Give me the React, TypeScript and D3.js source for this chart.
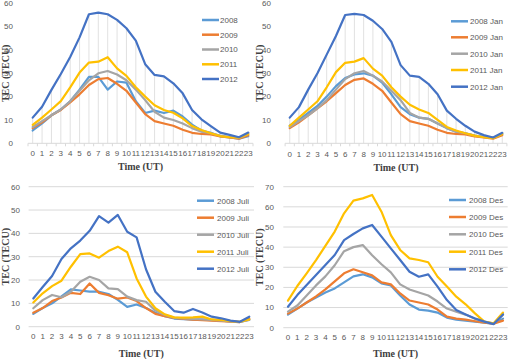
import React from "react";
import * as d3 from "d3";

const HOURS = ["0","1","2","3","4","5","6","7","8","9","10","11","12","13","14","15","16","17","18","19","20","21","22","23"];
const COLORS = ["#5B9BD5", "#ED7D31", "#A5A5A5", "#FFC000", "#4472C4"];

// Panel 1 (all year)
const y2008 = [5.5, 8.5, 12, 14.5, 18, 23, 28.5, 28.5, 23, 26.5, 26, 18, 13, 14, 13, 14, 11.5, 8, 5.5, 4.5, 3, 2.5, 2, 3];
const y2009 = [6.5, 9, 12, 14.3, 17.5, 21, 25, 27.5, 28, 25.5, 22.5, 17.5, 12.5, 9.5, 8.5, 7.5, 5.8, 4.5, 4, 3.8, 3, 2.5, 2, 3.5];
const y2010 = [7, 9.5, 12, 14.5, 18, 22.5, 27, 30, 31, 29.5, 27, 23, 18.5, 13.5, 11, 10, 8.5, 6.5, 5, 4.3, 3.3, 2.7, 2.3, 4];
const y2011 = [7.9, 11, 14.5, 18.1, 24, 30.3, 34.6, 35, 36.9, 32.1, 28.9, 24, 20, 16.3, 14.3, 13.1, 10.7, 7.4, 5.7, 4.3, 3.1, 2.6, 2.4, 4];
const y2012 = [11, 15.7, 22.9, 29.7, 37, 45.4, 55.3, 56, 55.3, 52.9, 49.3, 44, 33.9, 29.3, 28.7, 25.7, 21.4, 14.3, 10.3, 7.4, 4.6, 3.6, 2.6, 4.6];

// Panel 2 (January)
const jan2008 = [7.5, 10, 13, 16, 20, 24.5, 28, 29.5, 30, 29, 26, 21, 15.5, 12.5, 11, 10.5, 8.5, 6.5, 5, 4.3, 3.3, 2.7, 2.3, 4];
const jan2009 = [6.5, 9, 12, 15, 18, 21.5, 25, 27.2, 27.8, 25.5, 22.5, 17.5, 12.5, 9.5, 8.5, 7.5, 5.8, 4.5, 4, 3.8, 3, 2.5, 2, 3.5];
const jan2010 = [7, 9.5, 12, 15, 18.5, 23, 27.5, 30, 31, 29, 26.5, 22.5, 18.5, 13, 11, 10.5, 8.5, 6.5, 5, 4.3, 3.3, 2.7, 2.3, 4];
const jan2011 = [7.5, 11, 14.5, 18, 24, 30.5, 34.5, 35, 36.5, 32, 29, 24, 20, 16.5, 14.5, 13, 10, 7, 5.5, 4.3, 3.3, 2.6, 2.2, 4];
const jan2012 = [11, 15.5, 23, 30, 38, 46, 55, 55.5, 55, 52.5, 49, 43.5, 33.5, 29, 28.5, 25.5, 21, 14, 10.5, 7.5, 5, 3.5, 2.5, 4.5];

// Panel 3 (July)
const jul2008 = [5.5, 8, 10, 13, 16, 15.5, 15, 15, 14, 11.5, 8.5, 9.5, 8, 6, 4.5, 3.5, 3.2, 3, 3, 2.8, 2.6, 2.3, 2, 3];
const jul2009 = [6, 8, 11, 12.5, 14.5, 14, 18.5, 14.5, 13.5, 12, 12.5, 11, 8, 5.5, 4.5, 3.8, 3.3, 3, 2.8, 2.6, 2.4, 2.2, 2, 3.5];
const jul2010 = [7.9, 11.4, 13.6, 12.6, 15, 19.3, 21.4, 20, 16.4, 16.1, 12.9, 11.4, 10.7, 6.9, 5, 3.9, 3.6, 3.3, 3.1, 2.9, 2.6, 2.3, 2.1, 2.9];
const jul2011 = [10.4, 14.3, 17.4, 19.7, 25.7, 31.1, 31.4, 29.6, 32.4, 34.3, 31.9, 20.7, 12.9, 7.9, 5.3, 4, 3.9, 4, 4.3, 3.1, 2.9, 2.4, 2.1, 3.1];
const jul2012 = [12.1, 17, 21.7, 29, 33.6, 36.9, 41.1, 47.4, 44.6, 47.9, 40.7, 38.3, 24.6, 15, 10.7, 6.7, 6, 7.6, 6.1, 4.3, 3.6, 2.6, 2.1, 4.3];

// Panel 4 (December)
const des2008 = [6.5, 9.5, 12.5, 15, 17.5, 19.5, 22.5, 25.5, 26.5, 25, 22, 21, 16, 11.5, 9, 8.5, 7.5, 5, 4, 3.5, 3, 2.5, 2, 4.5];
const des2009 = [7, 9.5, 12.5, 15.5, 19, 23, 27, 29, 27.5, 26, 22.5, 21.5, 17, 13.5, 12.5, 11.5, 9, 5.5, 4.5, 4, 3.2, 2.5, 2, 3.5];
const des2010 = [8, 11, 16, 21, 25.5, 31, 38, 40, 41, 36, 31.5, 27.5, 21.5, 19, 17.5, 16, 13, 9.5, 8, 6.5, 4.5, 3, 2, 6.5];
const des2011 = [13.4, 20.7, 27, 33.6, 40.6, 47.7, 56.8, 63.1, 64.2, 65.9, 57.6, 46, 38.6, 34.4, 33.6, 32.5, 25.3, 20.4, 15.4, 11.6, 7.1, 3, 2.2, 7.5];
const des2012 = [10.4, 16.2, 21.2, 26.2, 31.1, 36.1, 43.5, 46.5, 49.3, 51, 45.2, 39.4, 33.6, 27.8, 25.3, 26.5, 20.4, 13.7, 8.8, 6.6, 4.6, 3, 1.8, 6.6];

const LABELS_ALL = ["2008", "2009", "2010", "2011", "2012"];
const LABELS_JAN = ["2008 Jan", "2009 Jan", "2010 Jan", "2011 Jan", "2012 Jan"];
const LABELS_JUL = ["2008 Juli", "2009 Juli", "2010 Juli", "2011 Juli", "2012 Juli"];
const LABELS_DES = ["2008 Des", "2009 Des", "2010 Des", "2011 Des", "2012 Des"];

const TICKS_60 = [0, 10, 20, 30, 40, 50, 60];
const TICKS_70 = [0, 10, 20, 30, 40, 50, 60, 70];

type PanelProps = {
  series: number[][];
  labels: string[];
  xRange: [number, number];
  yRange: [number, number];
  yMax: number;
  yTicks: number[];
  yLabelX: number;
  yTitleX: number;
  xLabelY: number;
  xTitleY: number;
  legendLineX: number;
  legendTextX: number;
  legendYs: number[];
  dropLines: boolean;
  grid: boolean;
};

function Panel(p: PanelProps) {
  const x = d3.scaleBand<string>().domain(HOURS).range(p.xRange).paddingInner(0).paddingOuter(0);
  const cx = (h: string) => (x(h) as number) + x.bandwidth() / 2;
  const y = d3.scaleLinear().domain([0, p.yMax]).range(p.yRange);
  const line = d3
    .line<number>()
    .x((_, i) => cx(HOURS[i]))
    .y((v) => y(v));
  const maxes = HOURS.map((_, i) => d3.max(p.series, (s) => s[i]) as number);
  const midY = (p.yRange[0] + p.yRange[1]) / 2;
  const midX = (p.xRange[0] + p.xRange[1]) / 2;
  return (
    <g>
      {p.grid &&
        p.yTicks.map((t) => (
          <line key={"g" + t} x1={p.xRange[0]} x2={p.xRange[1]} y1={y(t)} y2={y(t)} stroke="#d9d9d9" strokeWidth={1} />
        ))}
      {p.dropLines &&
        HOURS.map((h, i) => (
          <line key={"d" + h} x1={cx(h)} x2={cx(h)} y1={y(maxes[i])} y2={y(0)} stroke="#d9d9d9" strokeWidth={0.8} />
        ))}
      {!p.grid && (
        <g>
          <line x1={p.xRange[0]} x2={p.xRange[1]} y1={y(0)} y2={y(0)} stroke="#d9d9d9" strokeWidth={1} />
          {HOURS.map((h) => (
            <line key={"t" + h} x1={x(h) as number} x2={x(h) as number} y1={y(0)} y2={y(0) + 3} stroke="#d9d9d9" strokeWidth={1} />
          ))}
          <line x1={p.xRange[1]} x2={p.xRange[1]} y1={y(0)} y2={y(0) + 3} stroke="#d9d9d9" strokeWidth={1} />
        </g>
      )}
      {p.yTicks.map((t) => (
        <text key={"yl" + t} x={p.yLabelX} y={y(t)} dy="0.35em" textAnchor="end" fontSize={8} fill="#595959" fontFamily="Liberation Sans, Arial, sans-serif">
          {t}
        </text>
      ))}
      {HOURS.map((h) => (
        <text key={"xl" + h} x={cx(h)} y={p.xLabelY} dy="0.35em" textAnchor="middle" fontSize={8} fill="#595959" fontFamily="Liberation Sans, Arial, sans-serif">
          {h}
        </text>
      ))}
      <text x={midX} y={p.xTitleY} dy="0.35em" textAnchor="middle" fontSize={10} fontWeight="bold" fill="#404040" fontFamily="Liberation Serif, Times New Roman, serif">
        Time (UT)
      </text>
      <text transform={`translate(${p.yTitleX},${midY}) rotate(-90)`} dy="0.35em" textAnchor="middle" fontSize={10} fontWeight="bold" fill="#404040" fontFamily="Liberation Serif, Times New Roman, serif">
        TEC (TECU)
      </text>
      {p.series.map((s, i) => (
        <path key={"s" + i} d={line(s) as string} fill="none" stroke={COLORS[i]} strokeWidth={2.2} strokeLinejoin="round" strokeLinecap="round" />
      ))}
      {p.labels.map((lab, i) => (
        <g key={"lg" + i}>
          <line x1={p.legendLineX} x2={p.legendLineX + 17} y1={p.legendYs[i]} y2={p.legendYs[i]} stroke={COLORS[i]} strokeWidth={2.5} />
          <text x={p.legendTextX} y={p.legendYs[i]} dy="0.35em" fontSize={8} fill="#595959" fontFamily="Liberation Sans, Arial, sans-serif">
            {lab}
          </text>
        </g>
      ))}
    </g>
  );
}

export default function App() {
  return (
    <svg width={508} height={359} style={{ position: "absolute", left: 0, top: 0, background: "#fff" }}>
      <rect width={508} height={359} fill="#fff" />
      <Panel
        series={[y2008, y2009, y2010, y2011, y2012]}
        labels={LABELS_ALL}
        xRange={[28, 253]}
        yRange={[143.3, 3.3]}
        yMax={60}
        yTicks={TICKS_60}
        yLabelX={13}
        yTitleX={5}
        xLabelY={153.5}
        xTitleY={166.5}
        legendLineX={202}
        legendTextX={220}
        legendYs={[20, 34.7, 49.5, 64.3, 79]}
        dropLines={true}
        grid={false}
      />
      <Panel
        series={[jan2008, jan2009, jan2010, jan2011, jan2012]}
        labels={LABELS_JAN}
        xRange={[285.1, 506.9]}
        yRange={[143.3, 3.3]}
        yMax={60}
        yTicks={TICKS_60}
        yLabelX={271}
        yTitleX={259.5}
        xLabelY={154.3}
        xTitleY={167.3}
        legendLineX={451}
        legendTextX={470}
        legendYs={[21.3, 37.3, 53.7, 70, 86.7]}
        dropLines={true}
        grid={false}
      />
      <Panel
        series={[jul2008, jul2009, jul2010, jul2011, jul2012]}
        labels={LABELS_JUL}
        xRange={[28.6, 254]}
        yRange={[326.7, 186.7]}
        yMax={60}
        yTicks={TICKS_60}
        yLabelX={20}
        yTitleX={5}
        xLabelY={336}
        xTitleY={353}
        legendLineX={197}
        legendTextX={217}
        legendYs={[200.7, 217.7, 234.7, 251.7, 268.7]}
        dropLines={false}
        grid={true}
      />
      <Panel
        series={[des2008, des2009, des2010, des2011, des2012]}
        labels={LABELS_DES}
        xRange={[283.3, 507.7]}
        yRange={[327.7, 186.7]}
        yMax={70}
        yTicks={TICKS_70}
        yLabelX={274}
        yTitleX={259}
        xLabelY={336.7}
        xTitleY={353}
        legendLineX={449}
        legendTextX={469}
        legendYs={[200, 217, 234.3, 251.7, 269.3]}
        dropLines={false}
        grid={true}
      />
    </svg>
  );
}
